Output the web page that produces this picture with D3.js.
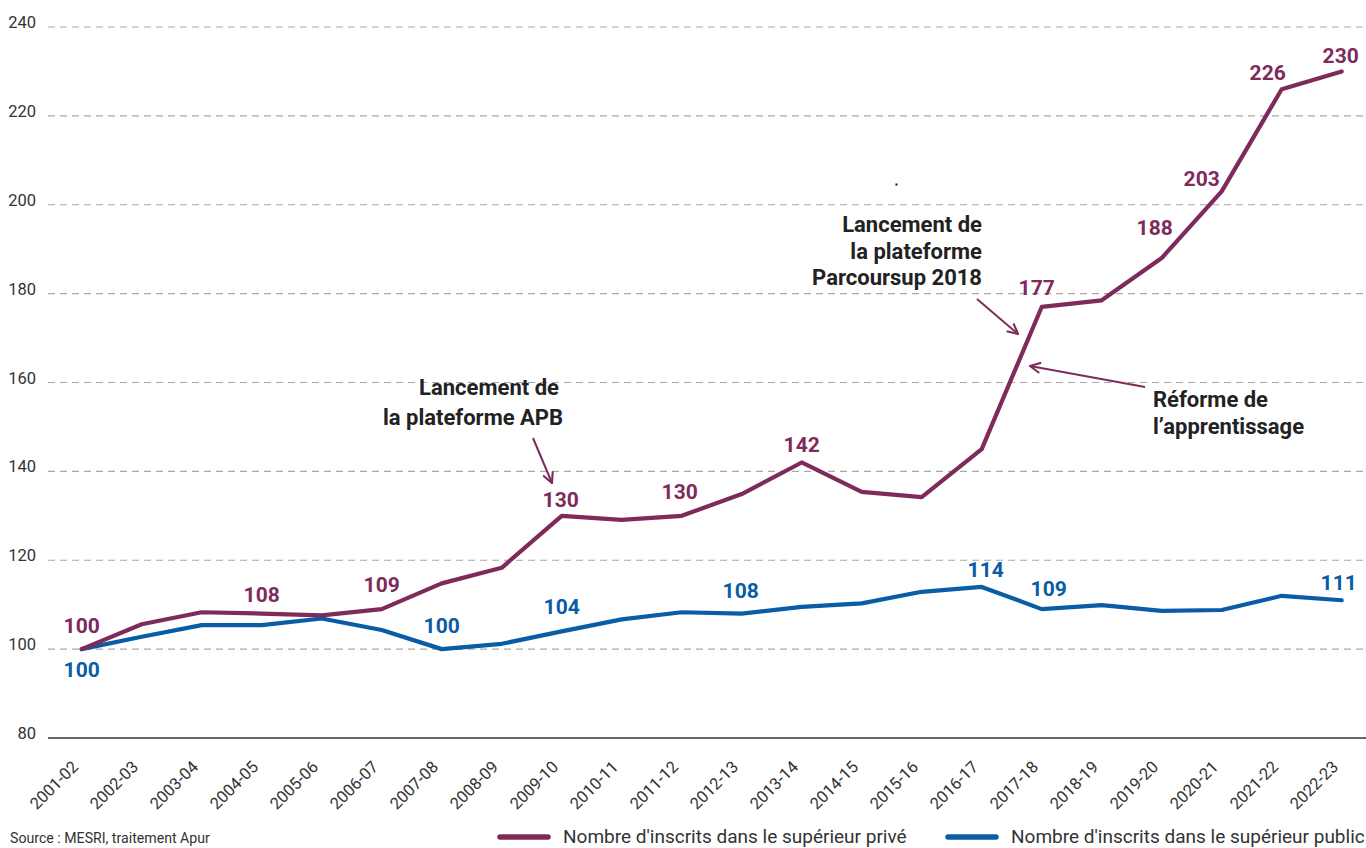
<!DOCTYPE html>
<html>
<head>
<meta charset="utf-8">
<script src="https://cdn.jsdelivr.net/npm/d3@7/dist/d3.min.js"></script>
<style>
  html, body { margin: 0; padding: 0; background: #fff; }
  svg { display: block; font-family: Roboto, "Noto Sans", sans-serif; }
</style>
</head>
<body>
<svg id="chart" width="1366" height="848"></svg>
<script>
// Années universitaires
const years = ["2001-02","2002-03","2003-04","2004-05","2005-06","2006-07","2007-08","2008-09",
  "2009-10","2010-11","2011-12","2012-13","2013-14","2014-15","2015-16","2016-17",
  "2017-18","2018-19","2019-20","2020-21","2021-22","2022-23"];

// Indice base 100 en 2001-02 : supérieur privé
const prive = [100, 105.6, 108.3, 108, 107.6, 109, 114.8, 118.3, 130, 129.1, 130, 134.9,
  142, 135.4, 134.2, 145, 177, 178.5, 188, 203, 226, 230];

// Indice base 100 en 2001-02 : supérieur public
const publicSerie = [100, 102.8, 105.4, 105.4, 106.9, 104.3, 100, 101.2, 104, 106.7, 108.3, 108,
  109.5, 110.3, 112.9, 114, 109, 109.9, 108.6, 108.8, 112, 111];

const yTicks = [80, 100, 120, 140, 160, 180, 200, 220, 240];

// Points étiquetés (indices dans les séries)
const prLabelIdx = [0, 3, 5, 8, 10, 12, 16, 18, 19, 20, 21];
const puLabelIdx = [0, 6, 8, 11, 15, 16, 21];

const seriesNames = ["Nombre d'inscrits dans le supérieur privé", "Nombre d'inscrits dans le supérieur public"];

const COL_PR = "#7e2a5b";
const COL_PU = "#0a5ca6";
const TXT = "#2b2b2b";

const svg = d3.select("#chart");

const x = d3.scalePoint().domain(years).range([81.7, 1341.7]);
const y = d3.scaleLinear().domain([80, 240]).range([738, 27]);

// texte positionné par translation, avec compression horizontale éventuelle
function ctext(parent, px, py, str, o = {}) {
  const k = o.k || 1;
  return parent.append("text")
    .attr("transform", `translate(${px},${py}) scale(${k},1)`)
    .attr("text-anchor", o.anchor || "start")
    .attr("font-size", o.size || 16)
    .attr("font-weight", o.weight || 400)
    .attr("fill", o.fill || TXT)
    .text(str);
}

// Grille horizontale
const grid = svg.append("g");
grid.selectAll("line")
  .data(yTicks.filter(t => t > 80))
  .join("line")
  .attr("x1", 48).attr("x2", 1366)
  .attr("y1", d => y(d)).attr("y2", d => y(d))
  .attr("stroke", "#a9a9a9").attr("stroke-width", 1.2)
  .attr("stroke-dasharray", "7,5");

// Axe des abscisses (ligne de base 80)
svg.append("line")
  .attr("x1", 48).attr("x2", 1366)
  .attr("y1", y(80)).attr("y2", y(80))
  .attr("stroke", "#333").attr("stroke-width", 1.5);

// Étiquettes de l'axe vertical
yTicks.forEach(t => ctext(svg, 36, y(t) + 1, t, { anchor: "end", size: 16.5, fill: "#333" }));

// Étiquettes de l'axe horizontal (inclinées)
const xAxis = d3.axisBottom(x).tickSize(0).tickPadding(0);
const gx = svg.append("g").attr("transform", `translate(0,${y(80)})`).call(xAxis);
gx.select(".domain").remove();
gx.selectAll(".tick text")
  .attr("font-family", "Roboto, sans-serif")
  .attr("font-size", 16.5)
  .attr("fill", "#333")
  .attr("text-anchor", "end")
  .attr("y", 0).attr("dy", 0)
  .attr("transform", "translate(-3,30) rotate(-45)");

// Courbes
const line = d3.line().x((d, i) => x(years[i])).y(d => y(d));
svg.append("path").datum(publicSerie)
  .attr("d", line).attr("fill", "none")
  .attr("stroke", COL_PU).attr("stroke-width", 4.2)
  .attr("stroke-linejoin", "round").attr("stroke-linecap", "round");
svg.append("path").datum(prive)
  .attr("d", line).attr("fill", "none")
  .attr("stroke", COL_PR).attr("stroke-width", 4.2)
  .attr("stroke-linejoin", "round").attr("stroke-linecap", "round");

// Valeurs affichées
const prOffset = { 0: [0, -16], 3: [0, -11.5], 5: [0, -17], 8: [-1, -9], 10: [-2, -17], 12: [0, -10],
  16: [-5, -12], 18: [-7, -23], 19: [-20, -5], 20: [-14, -9], 21: [-1, -8] };
const puOffset = { 0: [0, 28], 6: [0, -16], 8: [0, -17], 11: [-1, -16], 15: [4, -10], 16: [7, -13], 21: [-3, -10] };

prLabelIdx.forEach(i => {
  const [dx, dy] = prOffset[i];
  ctext(svg, x(years[i]) + dx, y(prive[i]) + dy, Math.round(prive[i]),
    { anchor: "middle", size: 21, weight: 700, fill: COL_PR });
});
puLabelIdx.forEach(i => {
  const [dx, dy] = puOffset[i];
  ctext(svg, x(years[i]) + dx, y(publicSerie[i]) + dy, Math.round(publicSerie[i]),
    { anchor: "middle", size: 21, weight: 700, fill: COL_PU });
});

// Flèches d'annotation
const defs = svg.append("defs");
defs.append("marker")
  .attr("id", "arrow").attr("viewBox", "0 0 10 10")
  .attr("refX", 9).attr("refY", 5)
  .attr("markerWidth", 13).attr("markerHeight", 13)
  .attr("markerUnits", "userSpaceOnUse")
  .attr("orient", "auto")
  .append("path").attr("d", "M1,1 L9,5 L1,9")
  .attr("fill", "none").attr("stroke", COL_PR).attr("stroke-width", 1.6)
  .attr("stroke-linejoin", "miter");

function arrow(x1, y1, x2, y2) {
  svg.append("line")
    .attr("x1", x1).attr("y1", y1).attr("x2", x2).attr("y2", y2)
    .attr("stroke", COL_PR).attr("stroke-width", 2)
    .attr("marker-end", "url(#arrow)");
}

arrow(533, 438, 552, 483);
arrow(977, 299, 1018, 334);
arrow(1145, 387, 1030, 366);

// Annotations
const ann = { size: 22, weight: 700, fill: "#222" };
ctext(svg, 489, 395, "Lancement de", { ...ann, anchor: "middle" });
ctext(svg, 473, 425, "la plateforme APB", { ...ann, anchor: "middle" });
ctext(svg, 982, 232, "Lancement de", { ...ann, anchor: "end" });
ctext(svg, 982, 258.5, "la plateforme", { ...ann, anchor: "end" });
ctext(svg, 982, 285, "Parcoursup 2018", { ...ann, anchor: "end" });
ctext(svg, 1153, 407, "Réforme de", { ...ann, anchor: "start" });
ctext(svg, 1153, 433.5, "l’apprentissage", { ...ann, anchor: "start" });

svg.append("rect").attr("x", 895.5).attr("y", 183.5).attr("width", 2).attr("height", 2).attr("fill", "#111");

// Source
ctext(svg, 10, 843, "Source : MESRI, traitement Apur", { size: 15.5, k: 0.913, fill: "#333" });

// Légende
const legend = [
  { name: seriesNames[0], color: COL_PR, x0: 500 },
  { name: seriesNames[1], color: COL_PU, x0: 948 }
];
legend.forEach(l => {
  svg.append("line")
    .attr("x1", l.x0).attr("x2", l.x0 + 48)
    .attr("y1", 837).attr("y2", 837)
    .attr("stroke", l.color).attr("stroke-width", 5.5)
    .attr("stroke-linecap", "round");
  ctext(svg, l.x0 + 63, 843, l.name, { size: 19, fill: "#333" });
});
</script>
</body>
</html>
